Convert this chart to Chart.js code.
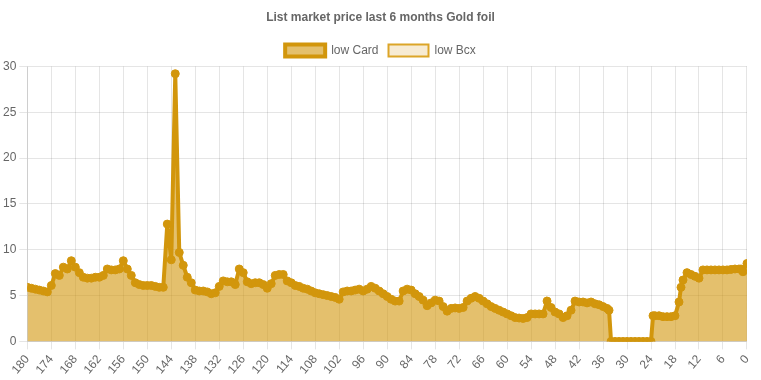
<!DOCTYPE html>
<html>
<head>
<meta charset="utf-8">
<script src="https://cdn.jsdelivr.net/npm/chart.js@4"></script>
<style>
html,body{margin:0;padding:0;background:#fff;}
#wrap{width:761px;height:380px;position:relative;}
</style>
</head>
<body>
<div id="wrap"><canvas id="c"></canvas></div>
<script>
const days = [180,179,178,177,176,175,174,173,172,171,170,169,168,167,166,165,164,163,162,161,160,159,158,157,156,155,154,153,152,151,150,149,148,147,146,145,144,143,142,141,140,139,138,137,136,135,134,133,132,131,130,129,128,127,126,125,124,123,122,121,120,119,118,117,116,115,114,113,112,111,110,109,108,107,106,105,104,103,102,101,100,99,98,97,96,95,94,93,92,91,90,89,88,87,86,85,84,83,82,81,80,79,78,77,76,75,74,73,72,71,70,69,68,67,66,65,64,63,62,61,60,59,58,57,56,55,54,53,52,51,50,49,48,47,46,45,44,43,42,41,40,39,38,37,36,35,34.5,34,33,32,31,30,29,28,27,26,25,24,23.5,23,22,21,20,19,18,17,16.5,16,15,14,13,12,11,10,9,8,7,6,5,4,3,2,1.5,1,0];
const lowCard = [5.9,5.8,5.7,5.6,5.5,5.4,6.1,7.4,7.2,8.1,7.9,8.8,8.1,7.5,7.0,6.9,6.9,7.0,7.0,7.2,7.9,7.8,7.8,7.9,8.8,7.9,7.2,6.4,6.2,6.1,6.1,6.1,6.0,5.9,5.9,12.8,8.9,29.2,9.7,8.3,7.0,6.4,5.6,5.5,5.5,5.4,5.2,5.3,6.0,6.6,6.5,6.5,6.2,7.9,7.5,6.5,6.3,6.4,6.4,6.2,5.8,6.3,7.2,7.3,7.3,6.6,6.4,6.1,6.0,5.8,5.7,5.5,5.3,5.2,5.1,5.0,4.9,4.8,4.6,5.4,5.5,5.5,5.6,5.7,5.5,5.7,6.0,5.8,5.5,5.2,4.9,4.6,4.4,4.4,5.5,5.7,5.6,5.2,4.9,4.5,3.9,4.2,4.5,4.4,3.8,3.3,3.6,3.65,3.6,3.7,4.4,4.7,4.9,4.7,4.4,4.1,3.8,3.6,3.4,3.2,3.0,2.8,2.6,2.55,2.5,2.6,3.0,3.0,3.0,3.0,4.4,3.7,3.2,3.0,2.6,2.8,3.4,4.4,4.3,4.3,4.2,4.3,4.1,4.0,3.8,3.6,3.4,0,0,0,0,0,0,0,0,0,0,0,2.8,2.8,2.8,2.7,2.7,2.7,2.8,4.3,5.9,6.7,7.5,7.3,7.1,6.9,7.8,7.8,7.8,7.8,7.8,7.8,7.8,7.85,7.9,7.9,7.9,7.6,8.5];
const lowBcx = [];
const xTicks = {min:0, max:180, step:6};
const yTicks = {min:0, max:30, step:5};

const gold = 'rgb(210,150,12)';
new Chart(document.getElementById('c'), {
  type: 'line',
  data: {
    datasets: [{
      label: 'low Card',
      data: days.map((d,i)=>({x:d, y:lowCard[i]})),
      borderColor: gold,
      backgroundColor: 'rgba(210,150,12,0.6)',
      pointBackgroundColor: gold,
      pointBorderColor: gold,
      borderWidth: 4,
      pointRadius: 4,
      pointBorderWidth: 1,
      fill: 'origin',
      tension: 0
    },{
      label: 'low Bcx',
      data: lowBcx,
      borderColor: 'rgb(220,165,40)',
      backgroundColor: 'rgba(230,190,110,0.3)',
      borderWidth: 2,
      fill: 'origin'
    }]
  },
  options: {
    responsive: true,
    maintainAspectRatio: false,
    animation: false,
    plugins: {
      title: {display:true, text:'List market price last 6 months Gold foil', color:'#666', font:{size:12, weight:'bold'}},
      legend: {labels:{color:'#666', font:{size:12}}},
      tooltip: {enabled:false}
    },
    scales: {
      x: {
        type: 'linear', reverse: true,
        min: xTicks.min, max: xTicks.max,
        ticks: {stepSize: xTicks.step, color:'#666', font:{size:12}, autoSkip:false},
        grid: {color:'rgba(0,0,0,0.1)'}
      },
      y: {
        min: yTicks.min, max: yTicks.max,
        ticks: {stepSize: yTicks.step, color:'#666', font:{size:12}},
        grid: {color:'rgba(0,0,0,0.1)'}
      }
    }
  }
});
</script>
</body>
</html>
